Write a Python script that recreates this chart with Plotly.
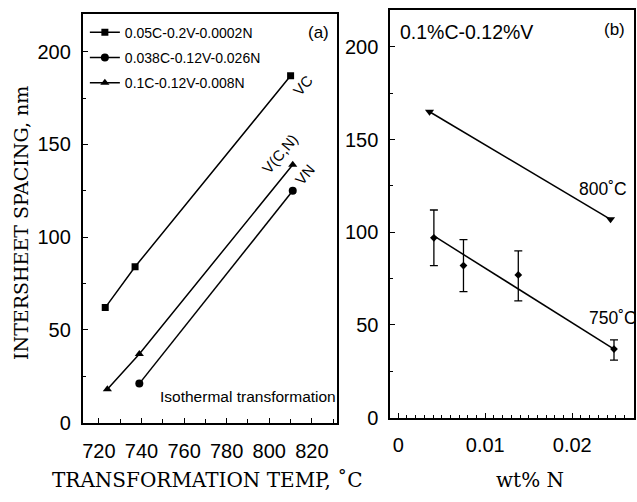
import plotly.graph_objects as go

# ---- data: panel (a) ----
temp_vc = [723, 737, 810]
sp_vc = [62, 84, 187]
temp_vn = [739, 811]
sp_vn = [21, 125]
temp_vcn = [724, 739, 811]
sp_vcn = [18, 37, 139]
legend_names = ["0.05C-0.2V-0.0002N", "0.038C-0.12V-0.026N", "0.1C-0.12V-0.008N"]

# ---- data: panel (b) ----
n_800 = [0.0036, 0.0244]
sp_800 = [165, 107]
n_750 = [0.0041, 0.0075, 0.0138, 0.0248]
sp_750 = [97, 82, 77, 37]
err_up_750 = [15, 14, 13, 5]
err_dn_750 = [15, 14, 14, 6]
n_fit_750 = [0.0041, 0.0248]
sp_fit_750 = [98, 37]

W, H = 637, 502
SANS = "Liberation Sans, Arial, sans-serif"
SERIF = "DejaVu Serif, serif"
BLK = "black"

fig = go.Figure()
line = dict(color=BLK, width=1.5)

fig.add_trace(go.Scatter(x=temp_vc, y=sp_vc, mode="lines+markers", name=legend_names[0],
                         line=line, marker=dict(symbol="square", size=7, color=BLK),
                         legendgroup="a", xaxis="x", yaxis="y"))
fig.add_trace(go.Scatter(x=temp_vn, y=sp_vn, mode="lines+markers", name=legend_names[1],
                         line=line, marker=dict(symbol="circle", size=8, color=BLK),
                         legendgroup="b", xaxis="x", yaxis="y"))
fig.add_trace(go.Scatter(x=temp_vcn, y=sp_vcn, mode="lines+markers", name=legend_names[2],
                         line=line, marker=dict(symbol="triangle-up", size=8, color=BLK),
                         legendgroup="c", xaxis="x", yaxis="y"))

fig.add_trace(go.Scatter(x=n_800, y=sp_800, mode="lines+markers", showlegend=False,
                         line=line, marker=dict(symbol="triangle-down", size=8, color=BLK),
                         xaxis="x2", yaxis="y2"))
fig.add_trace(go.Scatter(x=n_fit_750, y=sp_fit_750, mode="lines", showlegend=False,
                         line=line, xaxis="x2", yaxis="y2"))
fig.add_trace(go.Scatter(x=n_750, y=sp_750, mode="markers", showlegend=False,
                         marker=dict(symbol="diamond", size=6, color=BLK),
                         error_y=dict(type="data", array=err_up_750, arrayminus=err_dn_750,
                                      color=BLK, thickness=1.3, width=4),
                         xaxis="x2", yaxis="y2"))

axis_common = dict(showline=True, linecolor=BLK, linewidth=2, mirror=True, ticks="inside",
                   tickcolor=BLK, ticklen=5, showgrid=False, zeroline=False,
                   tickfont=dict(family=SANS, size=20, color=BLK))

def px_x(p):
    return p / W

def px_y(p):
    return 1 - p / H

fig.update_layout(
    width=W, height=H, margin=dict(l=0, r=0, t=0, b=0),
    paper_bgcolor="white", plot_bgcolor="white",
    xaxis=dict(domain=[px_x(82), px_x(337)], range=[712.5, 832], tickvals=[720, 740, 760, 780, 800, 820],
               minor=dict(dtick=10, tick0=720, ticks="inside", ticklen=4, tickcolor=BLK),
               anchor="y", ticklabelstandoff=9, **axis_common),
    yaxis=dict(domain=[px_y(432), px_y(14)], range=[0, 220.5], tickvals=[0, 50, 100, 150, 200],
               minor=dict(dtick=25, ticks="inside", ticklen=3, tickcolor=BLK),
               anchor="x", ticklabelstandoff=6, **axis_common),
    xaxis2=dict(domain=[px_x(390), px_x(634)], range=[-0.0009, 0.0271], tickvals=[0, 0.01, 0.02],
                ticktext=["0", "0.01", "0.02"],
                minor=dict(dtick=0.001, tick0=0, ticks="inside", ticklen=3, tickcolor=BLK),
                anchor="y2", ticklabelstandoff=8, **axis_common),
    yaxis2=dict(domain=[px_y(427), px_y(10)], range=[0, 220], tickvals=[0, 50, 100, 150, 200],
                minor=dict(dtick=25, ticks="inside", ticklen=3, tickcolor=BLK),
                anchor="x2", ticklabelstandoff=6, **axis_common),
    showlegend=True,
    legend=dict(x=px_x(84), y=px_y(17), xanchor="left", yanchor="top", bgcolor="rgba(0,0,0,0)",
                font=dict(family=SANS, size=14, color=BLK), tracegroupgap=4, itemwidth=30),
)

ann = []
def a(text, x, y, xref, yref, size, family=SANS, angle=0):
    ann.append(dict(text=text, x=x, y=y, xref=xref, yref=yref, showarrow=False,
                    xanchor="center", yanchor="middle",
                    font=dict(family=family, size=size, color=BLK), textangle=angle))

a("(a)", 823, 210.5, "x", "y", 17)
a("Isothermal transformation", 790, 14, "x", "y", 15.5)
a("VC", 815.5, 182, "x", "y", 15, angle=-50)
a("V(C,N)", 805, 145, "x", "y", 15, angle=-50)
a("VN", 816.5, 134, "x", "y", 15, angle=-50)
a("(b)", 0.0249, 209.5, "x2", "y2", 17)
a("0.1%C-0.12%V", 0.0079, 208, "x2", "y2", 19.5)
a("800˚C", 0.02356, 123.5, "x2", "y2", 17.5)
a("750˚C", 0.0247, 53.8, "x2", "y2", 17.5)
a("TRANSFORMATION TEMP, ˚C", px_x(207), px_y(491), "paper", "paper", 20, family=SERIF)
a("wt% N", px_x(530), px_y(491), "paper", "paper", 20, family=SERIF)
a("INTERSHEET SPACING, nm", px_x(20), px_y(228), "paper", "paper", 19, family=SERIF, angle=-90)
fig.update_layout(annotations=ann)

fig.write_html("out.html")
